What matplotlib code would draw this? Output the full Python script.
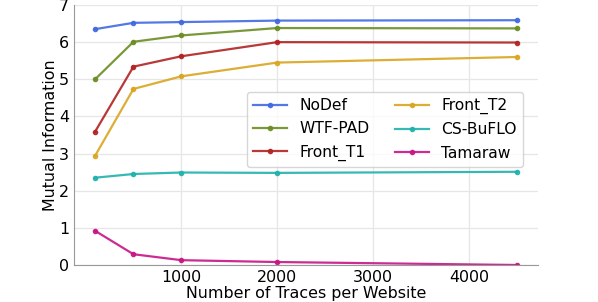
import matplotlib
matplotlib.use("Agg")
import matplotlib.pyplot as plt

x = [100, 500, 1000, 2000, 4500]
labels = ["NoDef", "WTF-PAD", "Front_T1", "Front_T2", "CS-BuFLO", "Tamaraw"]
nodef = [6.35, 6.52, 6.54, 6.58, 6.59]
wtfpad = [5.00, 6.01, 6.18, 6.38, 6.37]
front_t1 = [3.59, 5.34, 5.62, 6.00, 5.99]
front_t2 = [2.94, 4.74, 5.08, 5.45, 5.60]
csbuflo = [2.35, 2.45, 2.49, 2.48, 2.51]
tamaraw = [0.92, 0.29, 0.13, 0.08, 0.00]
series = [nodef, wtfpad, front_t1, front_t2, csbuflo, tamaraw]
colors = ["royalblue", "olivedrab", "firebrick", "goldenrod", "lightseagreen", "mediumvioletred"]

plt.rcParams['font.family'] = ['DejaVu Sans']
fs = 11.4
fig = plt.figure(figsize=(5.98, 3.02), dpi=100)
ax = fig.add_axes([74/598, 37/302, (538-74)/598, (265-5)/302])
for s, lab, c in zip(series, labels, colors):
    ax.plot(x, s, marker='o', markersize=3, linewidth=1.6, color=c, alpha=0.9, label=lab)
ax.set_ylim(0, 7)
ax.set_xticks([1000, 2000, 3000, 4000])
ax.set_yticks(range(0, 8))
ax.tick_params(labelsize=fs, length=0, pad=3.5)
ax.set_xlabel("Number of Traces per Website", fontsize=fs, labelpad=0.5)
ax.set_ylabel("Mutual Information", fontsize=fs, labelpad=1)
ax.grid(True, color='#e6e6e6', linewidth=0.9)
ax.set_axisbelow(True)
for sp in ['top', 'right']:
    ax.spines[sp].set_visible(False)
for sp in ['left', 'bottom']:
    ax.spines[sp].set_color('#999999')
ax.legend(ncol=2, fontsize=11.2, loc='upper left', bbox_to_anchor=(165/464, 1 - 79/260),
          columnspacing=1.6, handlelength=2.2, frameon=True, framealpha=0.8,
          borderpad=0.4, labelspacing=0.53)
fig.savefig("out.png", dpi=100)
